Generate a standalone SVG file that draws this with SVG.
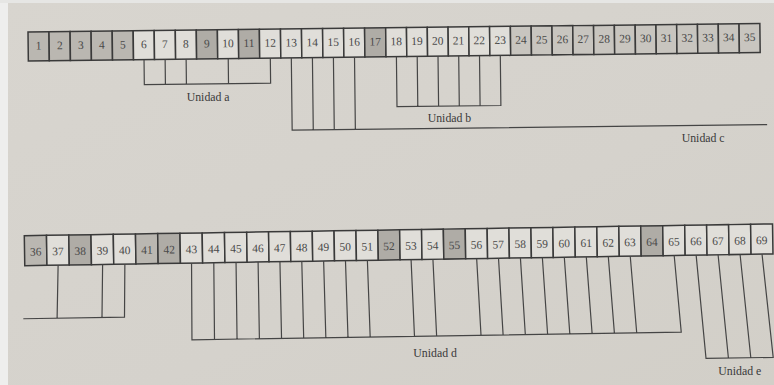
<svg xmlns="http://www.w3.org/2000/svg" width="774" height="385" viewBox="0 0 774 385">
  <defs>
    <linearGradient id="paper" x1="0" y1="0" x2="1" y2="1">
      <stop offset="0" stop-color="#d8d5cf"/>
      <stop offset="0.6" stop-color="#d5d2cc"/>
      <stop offset="1" stop-color="#d2cfc8"/>
    </linearGradient>
  </defs>
  <style>
    .cell rect { stroke: #3a3a3a; stroke-width: 1.5; fill: #e0ded9; }
    .cell.d1 rect { fill: #bab7b1; }
    .cell.d2 rect { fill: #afaca6; }
    .cell.m rect { fill: #c8c5bf; }
    .cell text { font-family: "Liberation Serif", serif; font-size: 11.5px; text-anchor: middle; fill: #4a4a4a; }
    .links path { fill: none; stroke: #454545; stroke-width: 1.2; }
    .label { font-family: "Liberation Serif", serif; font-size: 11.8px; fill: #3a3a3a; }
  </style>

  <!-- page -->
  <rect x="0" y="0" width="774" height="385" fill="url(#paper)"/>
  <rect x="0" y="0" width="8" height="385" fill="#eeeeed"/>
  <rect x="0" y="0" width="774" height="3" fill="#e6e6e4"/>

  <!-- upper strip: cells 1-35 -->
  <g id="row-top" transform="rotate(-0.67 28 32)">
    <g id="c1" class="cell d1"><rect x="28" y="32" width="21" height="29"/><text x="38.5" y="49.5">1</text></g>
    <g id="c2" class="cell d1"><rect x="49" y="32" width="21.1" height="29"/><text x="59.6" y="49.5">2</text></g>
    <g id="c3" class="cell d1"><rect x="70.1" y="32" width="21" height="29"/><text x="80.6" y="49.5">3</text></g>
    <g id="c4" class="cell d1"><rect x="91.1" y="32" width="21.1" height="29"/><text x="101.6" y="49.5">4</text></g>
    <g id="c5" class="cell d1"><rect x="112.2" y="32" width="21" height="29"/><text x="122.7" y="49.5">5</text></g>
    <g id="c6" class="cell"><rect x="133.2" y="32" width="21" height="29"/><text x="143.7" y="49.5">6</text></g>
    <g id="c7" class="cell"><rect x="154.2" y="32" width="21.1" height="29"/><text x="164.8" y="49.5">7</text></g>
    <g id="c8" class="cell"><rect x="175.3" y="32" width="21" height="29"/><text x="185.8" y="49.5">8</text></g>
    <g id="c9" class="cell d2"><rect x="196.3" y="32" width="21.1" height="29"/><text x="206.8" y="49.5">9</text></g>
    <g id="c10" class="cell"><rect x="217.4" y="32" width="21" height="29"/><text x="227.9" y="49.5">10</text></g>
    <g id="c11" class="cell d2"><rect x="238.4" y="32" width="21" height="29"/><text x="248.9" y="49.5">11</text></g>
    <g id="c12" class="cell"><rect x="259.4" y="32" width="21.1" height="29"/><text x="270" y="49.5">12</text></g>
    <g id="c13" class="cell"><rect x="280.5" y="32" width="21" height="29"/><text x="291" y="49.5">13</text></g>
    <g id="c14" class="cell"><rect x="301.5" y="32" width="21.1" height="29"/><text x="312.1" y="49.5">14</text></g>
    <g id="c15" class="cell"><rect x="322.6" y="32" width="21" height="29"/><text x="333.1" y="49.5">15</text></g>
    <g id="c16" class="cell"><rect x="343.6" y="32" width="21" height="29"/><text x="354.2" y="49.5">16</text></g>
    <g id="c17" class="cell d2"><rect x="364.6" y="32" width="21.1" height="29"/><text x="375.2" y="49.5">17</text></g>
    <g id="c18" class="cell"><rect x="385.7" y="32" width="20.8" height="29"/><text x="396.1" y="49.5">18</text></g>
    <g id="c19" class="cell"><rect x="406.5" y="32" width="20.8" height="29"/><text x="416.9" y="49.5">19</text></g>
    <g id="c20" class="cell"><rect x="427.3" y="32" width="20.8" height="29"/><text x="437.7" y="49.5">20</text></g>
    <g id="c21" class="cell"><rect x="448.1" y="32" width="20.7" height="29"/><text x="458.4" y="49.5">21</text></g>
    <g id="c22" class="cell"><rect x="468.8" y="32" width="20.8" height="29"/><text x="479.2" y="49.5">22</text></g>
    <g id="c23" class="cell"><rect x="489.6" y="32" width="20.8" height="29"/><text x="500" y="49.5">23</text></g>
    <g id="c24" class="cell m"><rect x="510.4" y="32" width="20.8" height="29"/><text x="520.8" y="49.5">24</text></g>
    <g id="c25" class="cell m"><rect x="531.2" y="32" width="20.8" height="29"/><text x="541.6" y="49.5">25</text></g>
    <g id="c26" class="cell m"><rect x="552" y="32" width="20.8" height="29"/><text x="562.4" y="49.5">26</text></g>
    <g id="c27" class="cell m"><rect x="572.8" y="32" width="20.8" height="29"/><text x="583.2" y="49.5">27</text></g>
    <g id="c28" class="cell m"><rect x="593.6" y="32" width="20.8" height="29"/><text x="604" y="49.5">28</text></g>
    <g id="c29" class="cell m"><rect x="614.4" y="32" width="20.8" height="29"/><text x="624.8" y="49.5">29</text></g>
    <g id="c30" class="cell m"><rect x="635.2" y="32" width="20.8" height="29"/><text x="645.6" y="49.5">30</text></g>
    <g id="c31" class="cell m"><rect x="656" y="32" width="20.7" height="29"/><text x="666.3" y="49.5">31</text></g>
    <g id="c32" class="cell m"><rect x="676.7" y="32" width="20.8" height="29"/><text x="687.1" y="49.5">32</text></g>
    <g id="c33" class="cell m"><rect x="697.5" y="32" width="20.8" height="29"/><text x="707.9" y="49.5">33</text></g>
    <g id="c34" class="cell m"><rect x="718.3" y="32" width="20.8" height="29"/><text x="728.7" y="49.5">34</text></g>
    <g id="c35" class="cell m"><rect x="739.1" y="32" width="20.8" height="29"/><text x="749.5" y="49.5">35</text></g>
  </g>

  <!-- lower strip: cells 36-69 -->
  <g id="row-bottom" transform="rotate(-0.9 24.3 235.7)">
    <g id="c36" class="cell d1"><rect x="24.3" y="235.7" width="22.2" height="30"/><text x="35.4" y="255.8">36</text></g>
    <g id="c37" class="cell"><rect x="46.5" y="235.7" width="22.3" height="30"/><text x="57.65" y="255.8">37</text></g>
    <g id="c38" class="cell d2"><rect x="68.8" y="235.7" width="22.2" height="30"/><text x="79.9" y="255.8">38</text></g>
    <g id="c39" class="cell"><rect x="91" y="235.7" width="22.3" height="30"/><text x="102.15" y="255.8">39</text></g>
    <g id="c40" class="cell"><rect x="113.3" y="235.7" width="22.2" height="30"/><text x="124.4" y="255.8">40</text></g>
    <g id="c41" class="cell d1"><rect x="135.5" y="235.7" width="22.2" height="30"/><text x="146.6" y="255.8">41</text></g>
    <g id="c42" class="cell d2"><rect x="157.7" y="235.7" width="22.3" height="30"/><text x="168.85" y="255.8">42</text></g>
    <g id="c43" class="cell"><rect x="180" y="235.7" width="22.2" height="30"/><text x="191.1" y="255.8">43</text></g>
    <g id="c44" class="cell"><rect x="202.2" y="235.7" width="22.3" height="30"/><text x="213.35" y="255.8">44</text></g>
    <g id="c45" class="cell"><rect x="224.5" y="235.7" width="22.2" height="30"/><text x="235.6" y="255.8">45</text></g>
    <g id="c46" class="cell"><rect x="246.7" y="235.7" width="21.9" height="30"/><text x="257.65" y="255.8">46</text></g>
    <g id="c47" class="cell"><rect x="268.6" y="235.7" width="21.8" height="30"/><text x="279.5" y="255.8">47</text></g>
    <g id="c48" class="cell"><rect x="290.4" y="235.7" width="21.9" height="30"/><text x="301.35" y="255.8">48</text></g>
    <g id="c49" class="cell"><rect x="312.3" y="235.7" width="21.8" height="30"/><text x="323.2" y="255.8">49</text></g>
    <g id="c50" class="cell"><rect x="334.1" y="235.7" width="21.9" height="30"/><text x="345.05" y="255.8">50</text></g>
    <g id="c51" class="cell"><rect x="356" y="235.7" width="21.9" height="30"/><text x="366.95" y="255.8">51</text></g>
    <g id="c52" class="cell d2"><rect x="377.9" y="235.7" width="21.8" height="30"/><text x="388.8" y="255.8">52</text></g>
    <g id="c53" class="cell"><rect x="399.7" y="235.7" width="21.9" height="30"/><text x="410.65" y="255.8">53</text></g>
    <g id="c54" class="cell"><rect x="421.6" y="235.7" width="21.8" height="30"/><text x="432.5" y="255.8">54</text></g>
    <g id="c55" class="cell d2"><rect x="443.4" y="235.7" width="21.9" height="30"/><text x="454.35" y="255.8">55</text></g>
    <g id="c56" class="cell"><rect x="465.3" y="235.7" width="21.9" height="30"/><text x="476.25" y="255.8">56</text></g>
    <g id="c57" class="cell"><rect x="487.2" y="235.7" width="21.8" height="30"/><text x="498.1" y="255.8">57</text></g>
    <g id="c58" class="cell"><rect x="509" y="235.7" width="22" height="30"/><text x="520" y="255.8">58</text></g>
    <g id="c59" class="cell"><rect x="531" y="235.7" width="21.9" height="30"/><text x="541.95" y="255.8">59</text></g>
    <g id="c60" class="cell"><rect x="552.9" y="235.7" width="22" height="30"/><text x="563.9" y="255.8">60</text></g>
    <g id="c61" class="cell"><rect x="574.9" y="235.7" width="22" height="30"/><text x="585.9" y="255.8">61</text></g>
    <g id="c62" class="cell"><rect x="596.9" y="235.7" width="22" height="30"/><text x="607.9" y="255.8">62</text></g>
    <g id="c63" class="cell"><rect x="618.9" y="235.7" width="21.9" height="30"/><text x="629.85" y="255.8">63</text></g>
    <g id="c64" class="cell d2"><rect x="640.8" y="235.7" width="22" height="30"/><text x="651.8" y="255.8">64</text></g>
    <g id="c65" class="cell"><rect x="662.8" y="235.7" width="22" height="30"/><text x="673.8" y="255.8">65</text></g>
    <g id="c66" class="cell"><rect x="684.8" y="235.7" width="21.9" height="30"/><text x="695.75" y="255.8">66</text></g>
    <g id="c67" class="cell"><rect x="706.7" y="235.7" width="22" height="30"/><text x="717.7" y="255.8">67</text></g>
    <g id="c68" class="cell"><rect x="728.7" y="235.7" width="22" height="30"/><text x="739.7" y="255.8">68</text></g>
    <g id="c69" class="cell"><rect x="750.7" y="235.7" width="21.9" height="30"/><text x="761.65" y="255.8">69</text></g>
  </g>

  <!-- brackets joining cells into units -->
  <g id="connectors" class="links">
    <g transform="rotate(-0.67 28 32)">
      <!-- unit a: 6, 7, 8, 10, 12 -->
      <path d="M143.7 61 V86 H270 V61 M164.8 61 V86 M185.8 61 V86 M227.9 61 V86"/>
      <!-- unit b: 18-23 -->
      <path d="M396.1 61 V111 H500 V61 M416.9 61 V111 M437.7 61 V111 M458.4 61 V111 M479.2 61 V111"/>
      <!-- unit c: 13-16, running on to the right -->
      <path d="M291 61 V133.3 H766 M312.1 61 V133.3 M333.1 61 V133.3 M354.2 61 V133.3"/>
    </g>
    <g transform="rotate(-0.9 24.3 235.7)">
      <!-- 37, 39, 40 -->
      <path d="M22 318.7 H123.2 L124.4 265.7 M57.65 265.7 L55.8 318.7 M102.15 265.7 L100.7 318.7"/>
      <!-- unit d -->
      <path d="M191.1 265.7 L190.3 342.4 H679.65 L673.8 265.7
               M213.35 265.7 L212.85 342.4 M235.6 265.7 L235.4 342.4 M257.65 265.7 L257.75 342.4
               M279.5 265.7 L279.9 342.4 M301.35 265.7 L302.05 342.4 M323.2 265.7 L324.2 342.4
               M345.05 265.7 L346.35 342.4 M366.95 265.7 L368.55 342.4 M410.65 265.7 L412.85 342.4
               M432.5 265.7 L435 342.4 M476.25 265.7 L479.4 342.4 M498.1 265.7 L501.5 342.4
               M520 265.7 L523.7 342.4 M541.95 265.7 L546 342.4 M563.9 265.7 L568.2 342.4
               M585.9 265.7 L590.5 342.4 M607.9 265.7 L612.8 342.4 M629.85 265.7 L635.1 342.4"/>
      <!-- unit e: 66-69 -->
      <path d="M695.75 265.7 L704 369.1 H771.2 L761.65 265.7 M717.7 265.7 L726.4 369.1 M739.7 265.7 L748.8 369.1"/>
    </g>
  </g>

  <!-- unit names -->
  <g id="labels">
    <text class="label" x="186.7" y="100.5">Unidad a</text>
    <text class="label" x="427.7" y="122">Unidad b</text>
    <text class="label" x="681.7" y="142">Unidad c</text>
    <text class="label" x="413.3" y="356.5">Unidad d</text>
    <text class="label" x="718.3" y="374.5">Unidad e</text>
  </g>
</svg>
